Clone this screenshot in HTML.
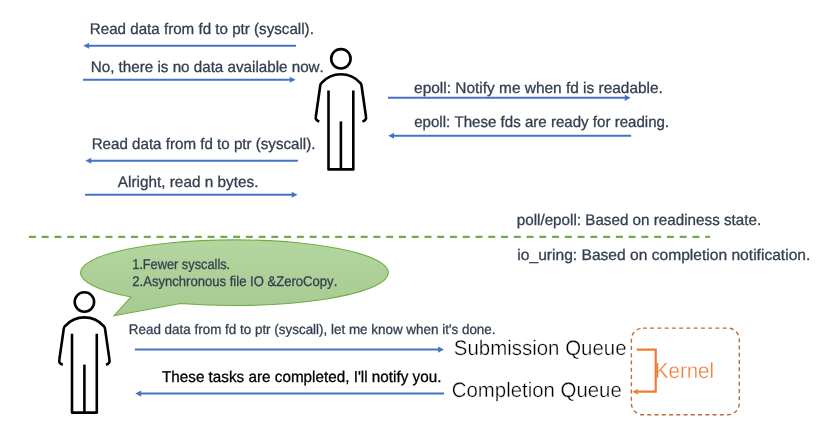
<!DOCTYPE html>
<html><head><meta charset="utf-8"><style>
html,body{margin:0;padding:0;background:#fff;}
svg{display:block;will-change:transform;}
text{font-family:"Liberation Sans",sans-serif;font-kerning:none;text-rendering:geometricPrecision;}
</style></head><body>
<svg width="838" height="442" viewBox="0 0 838 442">
<defs><linearGradient id="bg" x1="0" y1="0" x2="0" y2="1"><stop offset="0" stop-color="#B3D6A0"/><stop offset="1" stop-color="#A6CA91"/></linearGradient></defs><rect width="838" height="442" fill="#fff"/>
<line x1="87.3" y1="45.75" x2="296" y2="45.75" stroke="#4472C4" stroke-width="2"/>
<path d="M83.3,45.75 L89.3,42.7 L88.89999999999999,45.75 L89.3,48.8 Z" fill="#4472C4"/>
<line x1="83" y1="79.75" x2="291.6" y2="79.75" stroke="#4472C4" stroke-width="2"/>
<path d="M295.6,79.75 L289.6,76.7 L290.0,79.75 L289.6,82.8 Z" fill="#4472C4"/>
<line x1="388" y1="97.85" x2="626.6" y2="97.85" stroke="#4472C4" stroke-width="2"/>
<path d="M630.6,97.85 L624.6,94.8 L625.0,97.85 L624.6,100.89999999999999 Z" fill="#4472C4"/>
<line x1="392.2" y1="135.75" x2="631.1" y2="135.75" stroke="#4472C4" stroke-width="2"/>
<path d="M388.2,135.75 L394.2,132.7 L393.8,135.75 L394.2,138.8 Z" fill="#4472C4"/>
<line x1="89.4" y1="160.75" x2="297.9" y2="160.75" stroke="#4472C4" stroke-width="2"/>
<path d="M85.4,160.75 L91.4,157.7 L91.0,160.75 L91.4,163.8 Z" fill="#4472C4"/>
<line x1="85.1" y1="194.75" x2="293.6" y2="194.75" stroke="#4472C4" stroke-width="2"/>
<path d="M297.6,194.75 L291.6,191.7 L292.0,194.75 L291.6,197.8 Z" fill="#4472C4"/>
<line x1="134.9" y1="349.6" x2="440" y2="349.6" stroke="#4472C4" stroke-width="2"/>
<path d="M444,349.6 L438,346.55 L438.4,349.6 L438,352.65000000000003 Z" fill="#4472C4"/>
<line x1="139.3" y1="393.6" x2="444" y2="393.6" stroke="#4472C4" stroke-width="2"/>
<path d="M135.3,393.6 L141.3,390.55 L140.9,393.6 L141.3,396.65000000000003 Z" fill="#4472C4"/>
<g transform="translate(340.9,58.8)" fill="none" stroke="#000" stroke-width="2.6" stroke-linejoin="round" stroke-linecap="butt">
<circle cx="0" cy="0" r="9.7"/>
<path d="M-12.4,31.7 V110.6 H12.4 V31.7"/>
<path d="M0,62.6 V110.6"/>
<path d="M-21.6,62.7 C-24.2,61.8 -25.5,60 -25.1,57.9 L-20.6,26.5 Q-20.3,24.8 -19,23.8 A25.7,25.7 0 0 1 19,23.8 Q20.3,24.8 20.6,26.5 L25.1,57.9 C25.5,60 24.2,61.8 21.6,62.7"/>
</g>
<g transform="translate(84.4,302.0)" fill="none" stroke="#000" stroke-width="2.6" stroke-linejoin="round" stroke-linecap="butt">
<circle cx="0" cy="0" r="9.7"/>
<path d="M-12.4,31.7 V110.6 H12.4 V31.7"/>
<path d="M0,62.6 V110.6"/>
<path d="M-21.6,62.7 C-24.2,61.8 -25.5,60 -25.1,57.9 L-20.6,26.5 Q-20.3,24.8 -19,23.8 A25.7,25.7 0 0 1 19,23.8 Q20.3,24.8 20.6,26.5 L25.1,57.9 C25.5,60 24.2,61.8 21.6,62.7"/>
</g>
<line x1="28.9" y1="236.85" x2="710" y2="236.85" stroke="#70AD47" stroke-width="2.2" stroke-dasharray="7 5.76"/>
<path d="M131.00,296.98 L114.1,315.7 L180.60,303.43 A153.85,32.8 0 1 0 131.00,296.98 Z" fill="url(#bg)" stroke="#70AD47" stroke-width="1.1"/>
<rect x="631.4" y="328.1" width="107.9" height="86.7" rx="11.5" ry="11.5" fill="none" stroke="#C06A38" stroke-width="1.4" stroke-dasharray="4 3.25"/>
<text x="89.76" y="34.00" font-size="15.4" fill="#333F50" textLength="224.13" lengthAdjust="spacingAndGlyphs" stroke="#333F50" stroke-width="0.3">Read data from fd to ptr (syscall).</text>
<text x="90.75" y="72.00" font-size="15.4" fill="#333F50" textLength="233.03" lengthAdjust="spacingAndGlyphs" stroke="#333F50" stroke-width="0.3">No, there is no data available now.</text>
<text x="414.14" y="93.00" font-size="15.4" fill="#333F50" textLength="248.76" lengthAdjust="spacingAndGlyphs" stroke="#333F50" stroke-width="0.3">epoll: Notify me when fd is readable.</text>
<text x="414.16" y="127.00" font-size="15.4" fill="#333F50" textLength="255.02" lengthAdjust="spacingAndGlyphs" stroke="#333F50" stroke-width="0.3">epoll: These fds are ready for reading.</text>
<text x="91.66" y="149.00" font-size="15.4" fill="#333F50" textLength="223.82" lengthAdjust="spacingAndGlyphs" stroke="#333F50" stroke-width="0.3">Read data from fd to ptr (syscall).</text>
<text x="117.77" y="187.00" font-size="15.4" fill="#333F50" textLength="140.63" lengthAdjust="spacingAndGlyphs" stroke="#333F50" stroke-width="0.3">Alright, read n bytes.</text>
<text x="516.72" y="225.00" font-size="15.4" fill="#333F50" textLength="244.47" lengthAdjust="spacingAndGlyphs" stroke="#333F50" stroke-width="0.3">poll/epoll: Based on readiness state.</text>
<text x="517.36" y="260.00" font-size="15.4" fill="#333F50" textLength="292.97" lengthAdjust="spacingAndGlyphs" stroke="#333F50" stroke-width="0.3">io_uring: Based on completion notification.</text>
<text x="132.13" y="269.00" font-size="14.1" fill="#333F50" textLength="98.04" lengthAdjust="spacingAndGlyphs" stroke="#333F50" stroke-width="0.3">1.Fewer syscalls.</text>
<text x="132.34" y="286.00" font-size="14.1" fill="#333F50" textLength="204.95" lengthAdjust="spacingAndGlyphs" stroke="#333F50" stroke-width="0.3">2.Asynchronous file IO &amp;ZeroCopy.</text>
<text x="128.80" y="334.00" font-size="13.8" fill="#333F50" textLength="366.73" lengthAdjust="spacingAndGlyphs" stroke="#333F50" stroke-width="0.3">Read data from fd to ptr (syscall), let me know when it&#39;s done.</text>
<text x="161.96" y="382.00" font-size="15.6" fill="#000" textLength="279.44" lengthAdjust="spacingAndGlyphs" stroke="#000" stroke-width="0.3">These tasks are completed, I&#39;ll notify you.</text>
<text x="453.87" y="355.00" font-size="21.0" fill="#000" textLength="172.64" lengthAdjust="spacingAndGlyphs" stroke="#fff" stroke-width="0.35">Submission Queue</text>
<text x="451.76" y="397.00" font-size="21.0" fill="#000" textLength="170.04" lengthAdjust="spacingAndGlyphs" stroke="#fff" stroke-width="0.35">Completion Queue</text>
<text x="654.82" y="378.00" font-size="21.9" fill="#ED7D31" textLength="59.25" lengthAdjust="spacingAndGlyphs" stroke="#fff" stroke-width="0.35">Kernel</text>
<path d="M636.8,349.6 H655.7 V391.7 H637" fill="none" stroke="#ED7D31" stroke-width="2.2"/>
<path d="M632.3,391.7 L638.4,388.7 L637.2,391.7 L638.4,394.7 Z" fill="#ED7D31"/>
</svg>
</body></html>
